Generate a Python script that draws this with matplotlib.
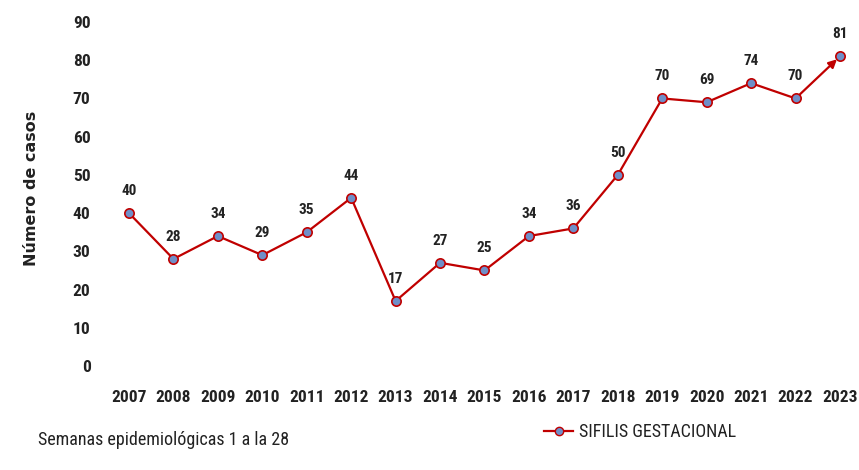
import matplotlib
matplotlib.use("Agg")
import matplotlib.pyplot as plt
from matplotlib.lines import Line2D

plt.rcParams['font.family'] = ['Roboto Condensed', 'Liberation Sans Narrow',
                               'DejaVu Sans Condensed', 'Roboto', 'DejaVu Sans']

years = [2007, 2008, 2009, 2010, 2011, 2012, 2013, 2014, 2015,
         2016, 2017, 2018, 2019, 2020, 2021, 2022, 2023]
casos = [40, 28, 34, 29, 35, 44, 17, 27, 25, 34, 36, 50, 70, 69, 74, 70, 81]
y_ticks = [0, 10, 20, 30, 40, 50, 60, 70, 80, 90]

line_c = '#C00000'
mark_c = '#6F8FC8'

fig = plt.figure(figsize=(8.59, 4.70), dpi=100)
ax = fig.add_axes([110 / 859, 104 / 470, 745 / 859, 344 / 470])

ax.plot(years[:-1], casos[:-1], color=line_c, lw=1.6, zorder=2)
ax.annotate('', xy=(years[-1], casos[-1]), xytext=(years[-2], casos[-2]),
            arrowprops=dict(arrowstyle='-|>', color=line_c, lw=1.6,
                            mutation_scale=12, shrinkA=0, shrinkB=3),
            zorder=2)
ax.scatter(years, casos, s=45, facecolor=mark_c, edgecolor=line_c,
           linewidth=1.2, zorder=3)

for x, y in zip(years, casos):
    ax.annotate(str(y), (x, y), xytext=(0, 11), textcoords='offset points',
                ha='center', va='bottom', fontsize=11, fontweight='bold',
                color='#222222')

ax.set_xlim(2007 - 19 / 44.44, 2023 + 15 / 44.44)
ax.set_ylim(0, 90)
ax.set_xticks(years)
ax.set_yticks(y_ticks)
ax.tick_params(length=0, labelsize=12.5, labelcolor='#222222')
ax.tick_params(axis='x', pad=17)
ax.tick_params(axis='y', pad=14)
for lbl in ax.get_xticklabels() + ax.get_yticklabels():
    lbl.set_fontweight('bold')
for s in ax.spines.values():
    s.set_visible(False)

fig.text(32 / 859, 0.60, 'Número de casos', rotation=90, ha='center',
         va='center', fontsize=11.5, fontweight='bold', family='DejaVu Sans',
         color='#222222')
fig.text(38 / 859, 1 - 440 / 470, 'Semanas epidemiológicas 1 a la 28',
         ha='left', va='center', fontsize=13, color='#222222')

handle = Line2D([], [], color=line_c, lw=1.6, marker='o', markersize=6,
                markerfacecolor=mark_c, markeredgecolor=line_c)
fig.legend([handle], ['SIFILIS GESTACIONAL'], loc='center left',
           bbox_to_anchor=(528 / 859, 1 - 432 / 470), frameon=False,
           fontsize=13, handlelength=1.6, handletextpad=0.3,
           labelcolor='#222222')

fig.savefig('out.png', dpi=100)
